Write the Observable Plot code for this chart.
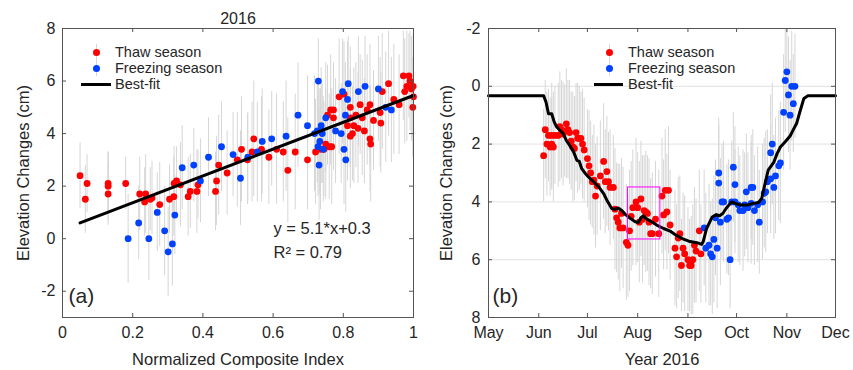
<!DOCTYPE html>
<html>
<head>
<meta charset="utf-8">
<script src="https://cdn.jsdelivr.net/npm/d3@7"></script>
<script src="https://cdn.jsdelivr.net/npm/@observablehq/plot@0.6"></script>
<style>
  body { margin: 0; background: #fff; }
  #wrap { position: relative; width: 853px; height: 370px; font-family: "Liberation Sans", Arial, sans-serif; color: #262626; overflow: hidden; }
  #wrap > svg { position: absolute; top: 0; }
  .leg { position: absolute; font-size: 14.5px; line-height: 18px; white-space: nowrap; }
  .sw-dot { position: absolute; width: 7px; height: 7px; border-radius: 50%; }
  .sw-bar { position: absolute; width: 1px; height: 16px; background: #d6d6d6; }
  .sw-line { position: absolute; height: 3px; background: #000; }
</style>
</head>
<body>
<div id="wrap"></div>
<script>
// ---------------- DATA ----------------
// Panel (a): [normalized composite index, elevation change (cm), error half-length]
const thawIndex = [
  [0.05,2.4,1.25],[0.065,1.5,1.3],[0.07,2.1,1.1],[0.13,2.1,1.2],[0.13,2.0,1.3],[0.13,1.7,1.2],
  [0.18,2.1,1.0],[0.22,1.7,1.4],[0.234,1.4,1.3],[0.237,1.7,1.5],[0.25,1.5,1.2],[0.255,1.55,1.4],
  [0.277,1.3,1.6],[0.305,1.5,1.3],[0.317,1.6,1.5],[0.318,2.1,1.4],[0.325,2.2,1.3],[0.336,2.05,1.6],
  [0.358,1.6,1.5],[0.364,1.8,1.4],[0.383,1.8,1.6],[0.386,2.05,1.3],[0.436,1.8,1.5],[0.439,2.2,1.7],
  [0.445,2.8,1.9],[0.469,2.5,1.6],[0.498,3.0,1.8],[0.51,3.4,2.0],[0.527,3.0,1.7],[0.54,3.3,1.9],
  [0.545,3.8,2.2],[0.567,3.4,2.0],[0.588,3.1,1.8],[0.61,3.4,2.1],[0.629,3.3,1.9],[0.642,2.6,2.0],
  [0.663,3.3,2.2],[0.698,3.0,1.9],[0.721,3.3,2.0],[0.735,3.4,2.3],[0.745,3.4,1.8],[0.75,3.6,2.1],
  [0.76,3.5,2.0],[0.767,3.5,2.2],[0.755,4.7,1.9],[0.764,4.9,2.1],[0.772,4.9,1.8],[0.772,4.6,2.0],
  [0.788,5.4,2.2],[0.802,5.5,2.0],[0.812,4.3,2.1],[0.82,4.6,1.9],[0.82,5.0,2.3],[0.82,3.9,2.0],
  [0.826,4.0,1.8],[0.83,4.3,2.2],[0.836,4.7,2.0],[0.842,4.2,2.1],[0.848,5.1,1.9],[0.854,4.6,2.2],
  [0.86,4.1,2.0],[0.868,4.9,2.1],[0.876,5.1,2.3],[0.886,4.5,1.9],[0.876,3.8,2.0],[0.878,3.6,2.2],
  [0.905,4.8,2.1],[0.907,4.4,1.9],[0.911,5.6,2.2],[0.929,5.9,2.0],[0.944,5.3,2.1],[0.959,5.1,1.9],
  [0.971,6.2,1.7],[0.975,5.6,2.0],[0.981,5.8,2.1],[0.987,6.2,1.6],[0.99,6.0,1.9],[0.994,5.7,2.0],
  [1.0,5.4,1.8],[0.998,5.0,1.9],[0.999,5.8,2.0]
];
const freezeIndex = [
  [0.187,0.0,1.7],[0.217,0.6,1.4],[0.246,0.0,1.6],[0.27,1.0,1.5],[0.291,0.3,1.7],[0.301,-0.5,1.7],
  [0.313,-0.2,1.6],[0.32,0.9,1.5],[0.341,2.7,1.6],[0.374,2.8,1.4],[0.393,2.2,1.6],[0.416,3.1,1.5],
  [0.453,3.5,1.7],[0.486,3.2,1.6],[0.507,2.3,1.8],[0.528,3.1,1.7],[0.555,3.3,1.9],[0.569,3.7,2.0],
  [0.596,3.8,1.8],[0.637,3.9,2.1],[0.671,4.7,2.0],[0.698,4.3,1.9],[0.718,4.0,2.2],[0.729,6.0,1.6],
  [0.726,4.1,2.0],[0.728,3.5,1.9],[0.731,2.8,2.1],[0.733,3.7,2.0],[0.737,4.3,2.2],[0.74,4.0,1.9],
  [0.743,3.4,2.0],[0.75,4.6,2.1],[0.778,4.1,2.0],[0.794,4.0,1.9],[0.798,5.6,2.0],[0.802,3.4,2.1],
  [0.807,3.0,2.0],[0.812,5.3,2.2],[0.814,5.9,1.8],[0.806,4.7,2.0],[0.843,5.6,2.1],[0.862,5.8,1.9],
  [0.9,5.7,2.0],[0.921,5.0,2.1],[0.937,4.9,2.0]
];
const fitIndex = [0.05, 1.0];
const fitIndexElev = [0.6, 5.45];
const indexTicks = [0, 0.2, 0.4, 0.6, 0.8, 1];
const elevTicksA = [-2, 0, 2, 4, 6, 8];

// Panel (b): [days since 2016-05-01, elevation change (cm), error half-length]
const thawDays = [
  [34,2.4,1.6],[35,1.5,1.7],[36,2.0,1.8],[37,1.7,1.6],[38,2.1,1.7],[39,1.7,1.8],[39,2.0,1.6],
  [40,2.1,1.9],[41,1.7,1.7],[43,1.7,1.8],[44,1.4,1.9],[45,1.5,1.7],[46,1.65,1.8],[47,1.55,1.6],
  [48,1.3,1.9],[49,1.5,1.7],[50,1.6,1.8],[51,1.9,1.7],[52,2.1,1.9],[53,2.15,1.8],[54,1.6,1.7],
  [55,1.8,1.9],[56,1.8,1.8],[57,1.8,1.6],[58,2.0,1.9],[59,2.2,1.8],[61,2.5,1.7],[62,2.75,1.9],
  [63,3.0,1.8],[64,3.3,1.6],[65,3.25,1.9],[66,3.8,1.8],[67,3.45,1.7],[69,3.1,1.9],[71,2.6,2.0],
  [72,3.3,1.8],[73,2.95,1.9],[74,3.3,1.7],[75,3.5,2.0],[77,3.5,1.8],[78,4.25,2.1],[79,4.55,1.9],
  [80,4.7,2.0],[81,4.9,2.2],[82,4.4,1.9],[83,4.9,2.1],[85,5.4,2.0],[86,5.5,1.8],[87,5.0,2.1],
  [88,4.5,1.9],[89,4.2,2.0],[91,4.0,2.2],[92,4.2,1.9],[93,4.7,2.1],[94,3.9,2.0],[95,4.6,2.2],
  [96,4.3,1.9],[97,4.35,2.1],[98,4.4,2.0],[99,4.7,2.2],[100,5.1,1.9],[101,5.1,2.1],[103,4.6,2.0],
  [105,5.1,2.2],[107,3.8,2.0],[108,4.45,1.9],[109,3.6,2.1],[110,4.35,2.0],[111,3.6,2.2],[112,4.8,1.9],
  [115,5.6,2.0],[116,5.9,1.8],[117,5.25,2.1],[118,5.1,2.0],[119,6.2,1.6],[120,5.6,1.9],[121,5.8,2.0],
  [123,6.0,1.8],[124,6.2,1.6],[125,6.2,1.7],[126,6.0,1.9],[127,5.5,2.0],[128,5.7,1.8],[130,5.0,2.1],
  [131,5.8,1.7]
];
const freezeDays = [
  [133,4.9,2.0],[134,5.6,1.9],[136,5.5,2.1],[137,5.8,1.8],[138,5.9,2.0],[139,5.3,2.2],[140,4.55,2.0],
  [141,5.6,2.1],[142,3.0,1.9],[142,3.35,2.0],[143,4.7,2.2],[144,4.0,2.0],[145,4.0,2.1],[147,4.6,1.9],
  [148,4.55,2.0],[149,6.0,1.7],[150,4.0,2.1],[151,2.8,1.9],[152,3.4,2.0],[152,4.0,1.8],[154,4.1,2.0],
  [155,4.3,1.9],[157,4.3,2.1],[158,4.1,1.8],[159,3.65,2.0],[160,4.2,1.9],[162,4.05,2.1],[162,3.5,1.8],
  [163,3.5,2.0],[164,4.3,1.9],[166,4.1,2.0],[167,4.7,1.8],[169,4.0,2.0],[170,3.7,1.9],[171,3.65,2.1],
  [172,3.3,1.8],[174,2.3,2.0],[174,3.2,1.9],[175,2.0,2.1],[176,3.5,1.8],[177,3.1,2.0],[179,2.75,1.9],
  [180,2.65,2.1],[182,0.9,2.0],[183,-0.2,1.8],[184,-0.5,1.6],[185,0.3,2.0],[186,1.0,1.9],[187,0.0,1.9],
  [188,0.6,1.7],[189,0.0,1.8]
];
const fitDays = [
  [0,0.33],[33,0.33],[34,0.33],[35.5,0.55],[37,0.95],[39,0.95],[40.5,1.23],[42,1.4],[44,1.52],
  [46,1.63],[48,1.87],[50,2.04],[52.5,2.27],[54.5,2.56],[56,2.6],[57.5,2.85],[59.5,3.0],[61.5,3.13],
  [65,3.31],[68,3.48],[71,3.71],[73,3.94],[76,4.23],[78,4.26],[80,4.21],[82,4.29],[84.5,4.44],
  [87.5,4.57],[90.5,4.69],[92.5,4.71],[94,4.55],[95.5,4.48],[97,4.57],[100,4.67],[104,4.81],
  [108,4.92],[112,5.01],[115,5.13],[119.5,5.27],[123.5,5.36],[128.5,5.41],[131.5,5.47],[132.5,5.36],
  [134.5,4.92],[136.5,4.69],[138,4.52],[140.5,4.44],[142.5,4.48],[144.5,4.4],[146.5,4.23],[149,4.06],
  [150,4.0],[152.5,4.06],[155.5,4.11],[159.5,4.11],[162.5,4.06],[166.5,4.02],[168.5,3.88],[170,3.5],
  [172.5,2.9],[176,2.62],[178,2.33],[180,2.1],[183,1.92],[186,1.72],[188,1.5],[190,1.29],[192,0.89],
  [194.5,0.42],[197,0.33],[214,0.33]
];
const monthTicks = ["2016-05-01","2016-06-01","2016-07-01","2016-08-01","2016-09-01","2016-10-01","2016-11-01","2016-12-01"];
const elevTicksB = [-2, 0, 2, 4, 6, 8];
const gridB = [0, 2, 4, 6];
const boxDates = ["2016-07-26", "2016-08-15"];
const boxElev = [3.5, 5.3];

// ---------------- STYLE ----------------
const FONT = '"Liberation Sans", Arial, Helvetica, sans-serif';
const RED = "#ff0000", BLUE = "#0040ff", BAR = "#d6d6d6", AX = "#555";
const H = 370, MT = 28, MB = 53, PH = H - MT - MB;
const TL = 4; // inward tick length
const style = {fontFamily: FONT, fontSize: "16px", color: "#262626", background: "transparent", overflow: "visible"};

const X = d => d[0], Y = d => d[1];
const lo = d => d[1] - d[2], hi = d => d[1] + d[2];
const txt = {textAnchor: "middle", lineAnchor: "middle", fontSize: 16.5};

// ---------------- PANEL (a) ----------------
const WA = 430, MLA = 62, MRA = 17, PWA = WA - MLA - MRA;
const fitA = fitIndex.map((x, i) => [x, fitIndexElev[i]]);
const chartA = Plot.plot({
  width: WA, height: H, marginLeft: MLA, marginRight: MRA, marginTop: MT, marginBottom: MB,
  style,
  x: {domain: [0, 1]},
  y: {domain: [-3, 8]},
  marks: [
    Plot.ruleX(thawIndex, {x: X, y1: lo, y2: hi, stroke: BAR, strokeWidth: 1, clip: true}),
    Plot.ruleX(freezeIndex, {x: X, y1: lo, y2: hi, stroke: BAR, strokeWidth: 1, clip: true}),
    Plot.dot(thawIndex, {x: X, y: Y, r: 3.4, fill: RED, stroke: null}),
    Plot.dot(freezeIndex, {x: X, y: Y, r: 3.4, fill: BLUE, stroke: null}),
    Plot.line(fitA, {x: X, y: Y, stroke: "#000", strokeWidth: 3}),
    Plot.frame({stroke: AX}),
    Plot.tickY(elevTicksA, {y: d => d, insetRight: PWA - TL, stroke: AX}),
    Plot.tickY(elevTicksA, {y: d => d, insetLeft: PWA - TL, stroke: AX}),
    Plot.tickX(indexTicks, {x: d => d, insetTop: PH - TL, stroke: AX}),
    Plot.tickX(indexTicks, {x: d => d, insetBottom: PH - TL, stroke: AX}),
    Plot.axisX(indexTicks, {tickSize: 0, tickPadding: 9, label: null, tickFormat: d => String(d)}),
    Plot.axisY(elevTicksA, {tickSize: 0, tickPadding: 7, label: null, tickFormat: d => String(d)}),
    Plot.text(["Normalized Composite Index"], {...txt, frameAnchor: "bottom", dy: 42}),
    Plot.text(["Elevation Changes (cm)"], {...txt, frameAnchor: "left", dx: -39, rotate: -90}),
    Plot.text(["2016"], {...txt, frameAnchor: "top", dy: -9.5, fontSize: 16}),
    Plot.text(["y = 5.1*x+0.3"], {...txt, frameAnchor: "top-left", dx: 211, dy: 200, textAnchor: "start"}),
    Plot.text(["R² = 0.79"], {...txt, frameAnchor: "top-left", dx: 211, dy: 224, textAnchor: "start"}),
    Plot.text(["(a)"], {...txt, frameAnchor: "top-left", dx: 6, dy: 268, textAnchor: "start", fontSize: 21})
  ]
});
chartA.style.left = "0px";

// ---------------- PANEL (b) ----------------
const WB = 423, MLB = 58, MRB = 18, PWB = WB - MLB - MRB;
const MAY1 = Date.UTC(2016, 4, 1);
const toDate = d => new Date(MAY1 + d * 864e5);
const monthDates = monthTicks.map(s => new Date(s));
const DX = d => toDate(d[0]);
const chartB = Plot.plot({
  width: WB, height: H, marginLeft: MLB, marginRight: MRB, marginTop: MT, marginBottom: MB,
  style,
  x: {type: "utc", domain: [monthDates[0], monthDates[monthDates.length - 1]]},
  y: {domain: [-2, 8], reverse: true},
  marks: [
    Plot.ruleY(gridB, {y: d => d, stroke: "#e2e2e2"}),
    Plot.ruleX(thawDays, {x: DX, y1: lo, y2: hi, stroke: BAR, strokeWidth: 1, clip: true}),
    Plot.ruleX(freezeDays, {x: DX, y1: lo, y2: hi, stroke: BAR, strokeWidth: 1, clip: true}),
    Plot.dot(thawDays, {x: DX, y: Y, r: 3.4, fill: RED, stroke: null}),
    Plot.dot(freezeDays, {x: DX, y: Y, r: 3.4, fill: BLUE, stroke: null}),
    Plot.line(fitDays, {x: DX, y: Y, stroke: "#000", strokeWidth: 3}),
    Plot.rect([0], {x1: () => new Date(boxDates[0]), x2: () => new Date(boxDates[1]), y1: () => boxElev[0], y2: () => boxElev[1], fill: "none", stroke: "#ff00ff", strokeWidth: 1}),
    Plot.frame({stroke: AX}),
    Plot.tickY(elevTicksB, {y: d => d, insetRight: PWB - TL, stroke: AX}),
    Plot.tickY(elevTicksB, {y: d => d, insetLeft: PWB - TL, stroke: AX}),
    Plot.tickX(monthDates, {x: d => d, insetTop: PH - TL, stroke: AX}),
    Plot.tickX(monthDates, {x: d => d, insetBottom: PH - TL, stroke: AX}),
    Plot.axisX(monthDates, {tickSize: 0, tickPadding: 9, label: null, tickFormat: d3.utcFormat("%b")}),
    Plot.axisY(elevTicksB, {tickSize: 0, tickPadding: 8, label: null, tickFormat: d => String(d)}),
    Plot.text(["Year 2016"], {...txt, frameAnchor: "bottom", dy: 42}),
    Plot.text(["Elevation Changes (cm)"], {...txt, frameAnchor: "left", dx: -42, rotate: -90}),
    Plot.text(["(b)"], {...txt, frameAnchor: "top-left", dx: 4, dy: 268, textAnchor: "start", fontSize: 21})
  ]
});
chartB.style.left = "430px";

const wrap = document.getElementById("wrap");
wrap.appendChild(chartA);
wrap.appendChild(chartB);

// ---------------- LEGENDS ----------------
function legend(dotX, textX, lineX1, lineX2, rows) {
  const items = [
    {label: "Thaw season", color: RED, cy: rows[0]},
    {label: "Freezing season", color: BLUE, cy: rows[1]}
  ];
  for (const it of items) {
    const bar = document.createElement("div");
    bar.className = "sw-bar";
    bar.style.left = (dotX - 0.5) + "px"; bar.style.top = (it.cy - 8) + "px";
    wrap.appendChild(bar);
    const dot = document.createElement("div");
    dot.className = "sw-dot";
    dot.style.left = (dotX - 3.5) + "px"; dot.style.top = (it.cy - 3.5) + "px";
    dot.style.background = it.color;
    wrap.appendChild(dot);
    const t = document.createElement("div");
    t.className = "leg"; t.textContent = it.label;
    t.style.left = textX + "px"; t.style.top = (it.cy - 9) + "px";
    wrap.appendChild(t);
  }
  const ln = document.createElement("div");
  ln.className = "sw-line";
  ln.style.left = lineX1 + "px"; ln.style.width = (lineX2 - lineX1) + "px"; ln.style.top = (rows[2] - 1.5) + "px";
  wrap.appendChild(ln);
  const t = document.createElement("div");
  t.className = "leg"; t.textContent = "Best-fit";
  t.style.left = textX + "px"; t.style.top = (rows[2] - 9) + "px";
  wrap.appendChild(t);
}
legend(96, 115, 81, 111, [52, 68, 84]);
legend(609, 628, 594, 623, [52, 68, 84]);
</script>
</body>
</html>
